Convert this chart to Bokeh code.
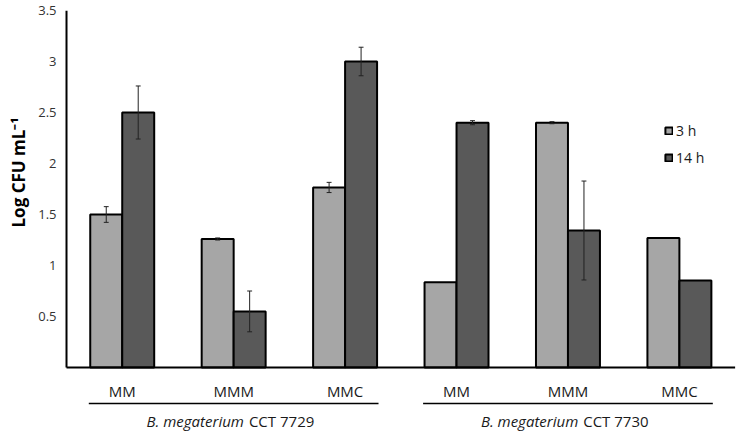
import math
from bokeh.plotting import figure
from bokeh.models import Range1d, FixedTicker, Legend, LegendItem, Title
from bokeh.core.properties import value
from bokeh.embed import file_html
from bokeh.resources import INLINE

# ---------------- data ----------------
categories = ["MM", "MMM", "MMC", "MM", "MMM", "MMC"]
groups = ["CCT 7729", "CCT 7730"]
group_species = "B. megaterium"
series_names = ["3 h", "14 h"]
values_3h = [1.50, 1.26, 1.765, 0.836, 2.40, 1.27]
values_14h = [2.50, 0.55, 3.00, 2.40, 1.343, 0.853]
err_3h = [0.077, 0.01, 0.05, 0.0, 0.01, 0.0]
err_14h = [0.26, 0.20, 0.14, 0.02, 0.485, 0.0]
y_ticks = [0.5, 1, 1.5, 2, 2.5, 3, 3.5]
y_title = "Log CFU mL\u207b\u00b9"

# ---------------- layout ----------------
W, H = 738, 433
BORDER_LEFT = 62
BORDER_TOP = 10
FRAME_H = H - BORDER_TOP
PX_BELOW_AXIS = 66
Y_TOP = 3.5
ppu = (FRAME_H - PX_BELOW_AXIS) / Y_TOP
y_start = -PX_BELOW_AXIS / ppu
x_start = -0.027
x_end = x_start + (W - BORDER_LEFT) / 111.6

FONT = "Open Sans"
C3 = "#a6a6a6"
C14 = "#595959"
BAR_W = 0.287

p = figure(width=W, height=H, output_backend="svg", toolbar_location=None,
           x_range=Range1d(x_start, x_end), y_range=Range1d(y_start, Y_TOP),
           x_axis_type=None, min_border_left=BORDER_LEFT, min_border_right=0,
           min_border_top=BORDER_TOP, min_border_bottom=0)
p.outline_line_color = None
p.grid.visible = False
p.background_fill_color = "white"
p.border_fill_color = "white"

yax = p.yaxis[0]
yax.ticker = FixedTicker(ticks=y_ticks)
yax.axis_line_color = None
yax.major_tick_line_color = None
yax.minor_tick_line_color = None
yax.major_tick_in = 0
yax.major_tick_out = 0
yax.major_label_standoff = 7
yax.major_label_text_font = FONT
yax.major_label_text_font_size = "13px"
yax.major_label_text_color = "#333333"

n = len(categories)
centers = [i + 0.5 for i in range(n)]
x3 = [c - BAR_W / 2 for c in centers]
x14 = [c + BAR_W / 2 for c in centers]

r3 = p.vbar(x=x3, top=values_3h, bottom=0, width=BAR_W, fill_color=C3,
            line_color="black", line_width=2)
r14 = p.vbar(x=x14, top=values_14h, bottom=0, width=BAR_W, fill_color=C14,
             line_color="black", line_width=2)

# error bars
cap = 0.022
for xs, vals, errs in ((x3, values_3h, err_3h), (x14, values_14h, err_14h)):
    ex = [x for x, e in zip(xs, errs) if e > 0]
    lo = [v - e for v, e in zip(vals, errs) if e > 0]
    hi = [v + e for v, e in zip(vals, errs) if e > 0]
    p.segment(x0=ex, y0=lo, x1=ex, y1=hi, line_color="#222222", line_width=1)
    p.segment(x0=[x - cap for x in ex], y0=lo, x1=[x + cap for x in ex], y1=lo,
              line_color="#222222", line_width=1)
    p.segment(x0=[x - cap for x in ex], y0=hi, x1=[x + cap for x in ex], y1=hi,
              line_color="#222222", line_width=1)

# axis lines
p.segment(x0=[0], y0=[0], x1=[0], y1=[Y_TOP], line_color="black", line_width=2)
p.segment(x0=[0], y0=[0], x1=[n], y1=[0], line_color="black", line_width=2)

# category labels
p.text(x=centers, y=[0] * n, text=categories, y_offset=23,
       text_align="center", text_baseline="middle",
       text_font=value(FONT), text_font_size="15px", text_color="#1a1a1a")

# group underlines and labels
gy = -36 / ppu
per = n // len(groups)
for g, gname in enumerate(groups):
    g0 = g * per
    p.segment(x0=[g0 + 0.2], y0=[gy], x1=[g0 + per - 0.2], y1=[gy],
              line_color="black", line_width=1.5)
    split = g0 + per / 2 + 0.11
    p.text(x=[split], y=[0], text=[group_species], y_offset=53, x_offset=-2,
           text_align="right", text_baseline="middle", text_font=value(FONT),
           text_font_style="italic", text_font_size="15px", text_color="#1a1a1a")
    p.text(x=[split], y=[0], text=[gname], y_offset=53, x_offset=3,
           text_align="left", text_baseline="middle", text_font=value(FONT),
           text_font_size="15px", text_color="#1a1a1a")

# y title in the left side panel
p.add_layout(Title(text=y_title, align="left", offset=206, standoff=10,
                   vertical_align="middle", text_font=FONT, text_font_style="bold",
                   text_font_size="17px", text_color="black"), "left")

legend = Legend(items=[LegendItem(label=series_names[0], renderers=[r3]),
                       LegendItem(label=series_names[1], renderers=[r14])],
                location=(601, 266), padding=0, margin=0, spacing=7,
                glyph_width=9, glyph_height=9, label_standoff=3, label_height=20,
                border_line_color=None, background_fill_color=None,
                label_text_font=FONT, label_text_font_size="14px",
                label_text_color="#1a1a1a")
p.add_layout(legend)

open("out.html", "w").write(file_html(p, INLINE))
